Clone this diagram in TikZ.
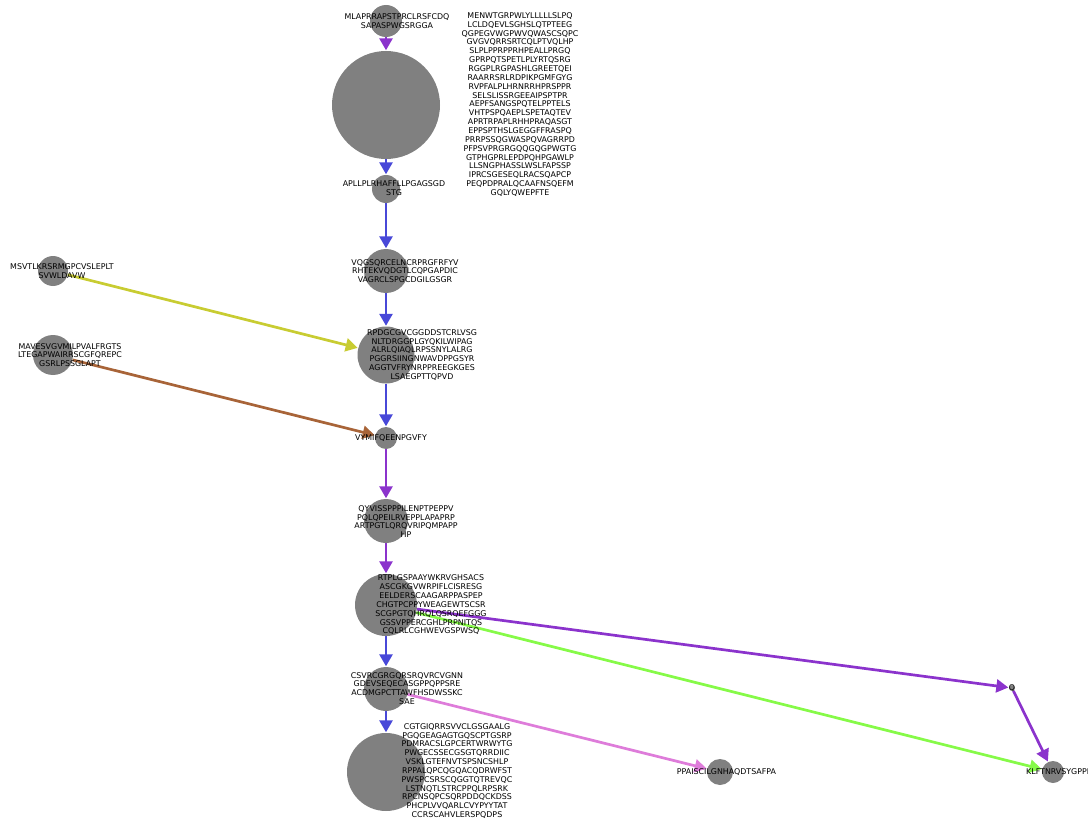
\documentclass[tikz,border=0pt]{standalone}
\usepackage{fontspec}
\setmainfont{DejaVu Sans}
\usetikzlibrary{arrows.meta}
\definecolor{cpurple}{RGB}{139,51,204}
\definecolor{cblue}{RGB}{72,72,216}
\definecolor{cyellow}{RGB}{200,204,50}
\definecolor{cbrown}{RGB}{168,100,56}
\definecolor{cgreen}{RGB}{134,250,72}
\definecolor{cpink}{RGB}{222,124,218}
\definecolor{cnode}{RGB}{128,128,128}
\tikzset{
  vtx/.style={circle,fill=cnode,draw=none,inner sep=0pt,minimum size=#1},
  lbl/.style={align=center,inner sep=0pt,text=black,font=\fontsize{7.9}{8.85}\selectfont},
  edge/.style={line width=2.7pt,-{Triangle[length=12pt,width=13pt]},shorten >=0.5pt},
}
\begin{document}
\begin{tikzpicture}[x=1pt,y=-1pt]
\useasboundingbox (0,0) rectangle (1088,824);
% vertices
\node[vtx=32pt] (n1) at (386,21) {};
\node[vtx=108pt] (n2) at (386,105) {};
\node[vtx=28pt] (n3) at (386,189) {};
\node[vtx=44pt] (n4) at (386,271) {};
\node[vtx=57pt] (n5) at (386,355) {};
\node[vtx=22pt] (n6) at (386,438) {};
\node[vtx=44pt] (n7) at (386,521) {};
\node[vtx=62pt] (n8) at (386,605) {};
\node[vtx=44pt] (n9) at (386,689) {};
\node[vtx=78pt] (n10) at (386,772) {};
\node[vtx=30pt] (l1) at (53,271) {};
\node[vtx=40pt] (l2) at (53,355) {};
\node[vtx=26pt] (p) at (720,772) {};
\node[vtx=6pt] (q) at (1012,688) {};
\node[vtx=22pt] (k) at (1053,772) {};
% edges
\draw[edge,cpurple] (n1) -- (n2);
\draw[edge,cblue] (n2) -- (n3);
\draw[edge,cblue] (n3) -- (n4);
\draw[edge,cblue] (n4) -- (n5);
\draw[edge,cblue] (n5) -- (n6);
\draw[edge,cpurple] (n6) -- (n7);
\draw[edge,cpurple] (n7) -- (n8);
\draw[edge,cblue] (n8) -- (n9);
\draw[edge,cblue] (n9) -- (n10);
\draw[edge,cyellow] (l1) -- (n5);
\draw[edge,cbrown] (l2) -- (n6);
\draw[edge,cpurple] (n8) -- (q);
\draw[edge,cgreen] (n8) -- (k);
\draw[edge,cpurple] (q) -- (k);
\draw[edge,cpink] (n9) -- (p);
% labels
\node[lbl] (t1) at (397,21) {MLAPRRAPSTPRCLRSFCDQ\\SAPASPWGSRGGA};
\node[lbl] (t2) at (520,104.5) {MENWTGRPWLYLLLLLSLPQ\\LCLDQEVLSGHSLQTPTEEG\\QGPEGVWGPWVQWASCSQPC\\GVGVQRRSRTCQLPTVQLHP\\SLPLPPRPPRHPEALLPRGQ\\GPRPQTSPETLPLYRTQSRG\\RGGPLRGPASHLGREETQEI\\RAARRSRLRDPIKPGMFGYG\\RVPFALPLHRNRRHPRSPPR\\SELSLISSRGEEAIPSPTPR\\AEPFSANGSPQTELPPTELS\\VHTPSPQAEPLSPETAQTEV\\APRTRPAPLRHHPRAQASGT\\EPPSPTHSLGEGGFFRASPQ\\PRRPSSQGWASPQVAGRRPD\\PFPSVPRGRGQQGQGPWGTG\\GTPHGPRLEPDPQHPGAWLP\\LLSNGPHASSLWSLFAPSSP\\IPRCSGESEQLRACSQAPCP\\PEQPDPRALQCAAFNSQEFM\\GQLYQWEPFTE};
\node[lbl] (t3) at (394,188.5) {APLLPLRHAFFLLPGAGSGD\\STG};
\node[lbl] (t4) at (405,271) {VQGSQRCELNCRPRGFRFYV\\RHTEKVQDGTLCQPGAPDIC\\VAGRCLSPGCDGILGSGR};
\node[lbl] (t5) at (422,355) {RPDGCGVCGGDDSTCRLVSG\\NLTDRGGPLGYQKILWIPAG\\ALRLQIAQLRPSSNYLALRG\\PGGRSIINGNWAVDPPGSYR\\AGGTVFRYNRPPREEGKGES\\LSAEGPTTQPVD};
\node[lbl] (t6) at (391,438) {VYMIFQEENPGVFY};
\node[lbl] (t7) at (406,521.5) {QYVISSPPPILENPTPEPPV\\PQLQPEILRVEPPLAPAPRP\\ARTPGTLQRQVRIPQMPAPP\\HP};
\node[lbl] (t8) at (431,605) {RTPLGSPAAYWKRVGHSACS\\ASCGKGVWRPIFLCISRESG\\EELDERSCAAGARPPASPEP\\CHGTPCPPYWEAGEWTSCSR\\SCGPGTQHRQLQSRQEFGGG\\GSSVPPERCGHLPRPNITQS\\CQLRLCGHWEVGSPWSQ};
\node[lbl] (t9) at (407,688.5) {CSVRCGRGQRSRQVRCVGNN\\GDEVSEQECASGPPQPPSRE\\ACDMGPCTTAWFHSDWSSKC\\SAE};
\node[lbl] (t10) at (457,771) {CGTGIQRRSVVCLGSGAALG\\PGQGEAGAGTGQSCPTGSRP\\PDMRACSLGPCERTWRWYTG\\PWGECSSECGSGTQRRDIIC\\VSKLGTEFNVTSPSNCSHLP\\RPPALQPCQGQACQDRWFST\\PWSPCSRSCQGGTQTREVQC\\LSTNQTLSTRCPPQLRPSRK\\RPCNSQPCSQRPDDQCKDSS\\PHCPLVVQARLCVYPYYTAT\\CCRSCAHVLERSPQDPS};
\node[lbl] (tl1) at (62,271.5) {MSVTLKRSRMGPCVSLEPLT\\SVWLDAVW};
\node[lbl] (tl2) at (70,355) {MAVESVGVMILPVALFRGTS\\LTEGAPWAIRRSCGFQREPC\\GSRLPSSGLAPT};
\node[lbl] (tp) at (726.5,772) {PPAISCILGNHAQDTSAFPA};
\node[lbl] (tq) at (1012,688) {Q};
\node[lbl,anchor=west] (tk) at (1026,772) {KLFTNRVSYGPPI};
\end{tikzpicture}
\end{document}
